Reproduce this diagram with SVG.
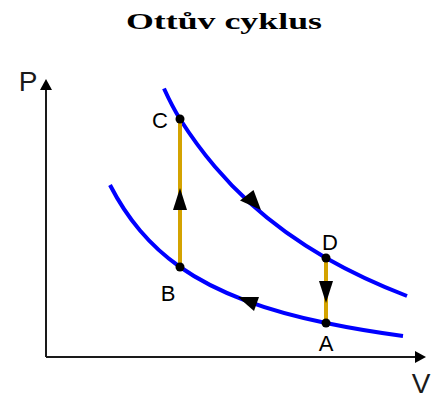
<svg xmlns="http://www.w3.org/2000/svg" width="444" height="399" viewBox="0 0 444 399">
<style>
.axis{stroke:#1a1a1a;stroke-width:2;fill:none}
.curve{stroke:#0000ff;stroke-width:4;fill:none}
.iso{stroke:#d4a300;stroke-width:4;fill:none}
.head{fill:#000}
.dot{fill:#000}
.lbl{font-family:"Liberation Sans",Arial,sans-serif;font-size:22px;fill:#000;text-anchor:middle}
.axl{font-family:"Liberation Sans",Arial,sans-serif;font-size:28px;fill:#1a1a1a;text-anchor:middle}
.title{font-family:"Liberation Serif","Times New Roman",serif;font-weight:bold;font-size:24px;fill:#000;text-anchor:middle}
</style>
<rect width="444" height="399" fill="#fff"/>
<text class="title" x="224" y="29" textLength="196" lengthAdjust="spacingAndGlyphs">Ottův cyklus</text>
<g id="axes">
<line class="axis" x1="46" y1="357" x2="46" y2="88"/>
<polygon class="head" points="46,79 40,90 52,90"/>
<line class="axis" x1="46" y1="357" x2="416" y2="357"/>
<polygon class="head" points="426,357 415,351 415,363"/>
<text class="axl" x="28" y="91">P</text>
<text class="axl" x="421" y="393" font-size="26">V</text>
</g>
<g id="connectors">
<path id="upper" class="curve" d="M164,88.5 C169,99.5 174.33,110.03 180,119 C191.67,137.47 203.33,153.04 215,166.8 C226.67,180.56 238.33,192.46 250,203.1 C275.33,226.2 300.67,243.48 326,258 C353,273.47 380,285.63 407,296"/>
<path id="lower" class="curve" d="M110,185 C120,204.48 130,218.7 140,230.5 C153.33,246.23 166.67,257.63 180,267 C201.67,282.23 223.33,292.2 245,300.3 C272,310.4 299,317.36 326,323 C351.67,328.36 377.33,332.51 403,336"/>
<line id="BC" class="iso" x1="180" y1="267" x2="180" y2="119"/>
<line id="DA" class="iso" x1="326" y1="258" x2="326" y2="323"/>
<polygon class="head" points="180,188 173,210 187,210"/>
<polygon class="head" points="326,303 319,281 333,281"/>
<polygon class="head" points="261,210 240,200.5 253.5,190"/>
<polygon class="head" points="238,297 259,297 254,311"/>
</g>
<g id="node-C"><circle class="dot" cx="180" cy="119" r="4.5"/><text class="lbl" x="160" y="128">C</text></g>
<g id="node-B"><circle class="dot" cx="180" cy="267" r="4.5"/><text class="lbl" x="168" y="301">B</text></g>
<g id="node-D"><circle class="dot" cx="326" cy="258" r="4.5"/><text class="lbl" x="330" y="250">D</text></g>
<g id="node-A"><circle class="dot" cx="326" cy="323" r="4.5"/><text class="lbl" x="326" y="351">A</text></g>
</svg>
